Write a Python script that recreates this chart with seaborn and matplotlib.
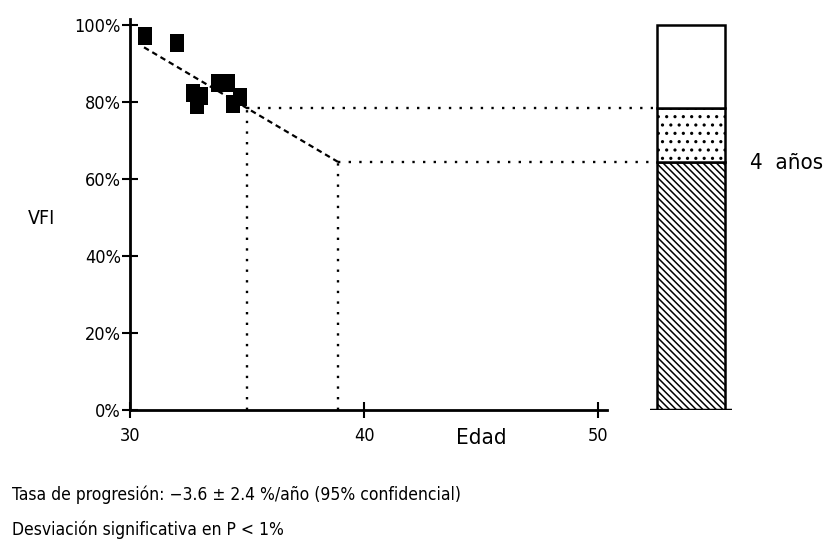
import numpy as np
import pandas as pd
import seaborn as sns
import matplotlib.pyplot as plt

# Data
edad = [30.64, 32.0, 32.69, 33.03, 32.86, 33.75, 34.18, 34.69, 34.39]
vfi = [97.1, 95.3, 82.3, 81.6, 79.2, 84.9, 84.9, 81.3, 79.5]

fit_x = [30.6, 35.0, 38.9]
fit_y = [94.2, 78.4, 64.4]

# stacked bar: remaining at 4 years, loss over next 4 years, loss so far
bar_bottoms = [0, 64.4, 78.4]
bar_heights = [64.4, 14.0, 21.6]
bar_hatches = ['\\\\\\\\\\', '..', '']

yticks = [0, 20, 40, 60, 80, 100]
xticks = [30, 40, 50]

sns.set_style('white')
plt.rcParams['font.family'] = ['DejaVu Sans']
plt.rcParams['font.stretch'] = 'condensed'
plt.rcParams['text.color'] = 'black'
plt.rcParams['xtick.color'] = 'black'
plt.rcParams['ytick.color'] = 'black'
plt.rcParams['hatch.linewidth'] = 1.1

W, H = 829, 550
fig = plt.figure(figsize=(W / 100, H / 100), dpi=100)

# main axes: x 30 -> px 130, 10 years = 234 px; y 0% -> px 410, 100% -> px 25
ax = fig.add_axes([130 / W, (H - 410) / H, 20.4 * 23.4 / W, 101.5 * 3.85 / H])
ax.set_xlim(30, 50.4)
ax.set_ylim(0, 101.5)

df = pd.DataFrame({'Edad': edad, 'VFI': vfi})
sq = [(-1, -1.35), (1, -1.35), (1, 1.35), (-1, 1.35), (-1, -1.35)]
sns.scatterplot(data=df, x='Edad', y='VFI', marker=sq, s=170, color='black',
                edgecolor='black', linewidth=0, ax=ax, zorder=3)
sns.lineplot(x=fit_x, y=fit_y, color='black', lw=1.6, ax=ax,
             linestyle=(0, (2.5, 1.8)), zorder=2)

for s in ['top', 'right']:
    ax.spines[s].set_visible(False)
for s in ['left', 'bottom']:
    ax.spines[s].set_linewidth(2)
    ax.spines[s].set_color('black')

ax.set_yticks(yticks)
ax.set_yticklabels([f'{v}%' for v in yticks], fontsize=13)
ax.set_xticks(xticks)
ax.set_xticklabels([str(v) for v in xticks], fontsize=13)
ax.tick_params(bottom=True, left=True, direction='inout', length=11, width=1.5)
ax.tick_params(axis='x', pad=7)
ax.tick_params(axis='y', pad=1)
ax.set_xlabel('')
ax.set_ylabel('')

fig.text(28 / W, 1 - 218 / H, 'VFI', fontsize=14, ha='left', va='center')
ax.text(45.0, -7.2, 'Edad', fontsize=16, ha='center', va='center')

# bar axes on the right
bax = fig.add_axes([650 / W, (H - 410) / H, 82 / W, 101.5 * 3.85 / H])
bax.set_xlim(-0.6, 0.6)
bax.set_ylim(0, 101.5)
for b, h, ht in zip(bar_bottoms, bar_heights, bar_hatches):
    bax.bar(0, h, bottom=b, width=1.0, color='white', edgecolor='black',
            linewidth=1.8, hatch=ht)
bax.axhline(0, color='black', lw=2.5)
bax.axis('off')

# dotted guides from the fit to the bar
fig.canvas.draw()
bar_left_disp = bax.transData.transform((-0.56, 0))
x_end = ax.transData.inverted().transform(bar_left_disp)[0]
for xv, yv in zip(fit_x[1:], fit_y[1:]):
    ax.plot([xv, x_end], [yv, yv], color='black', lw=1.7, linestyle=(0, (1, 3.5)),
            clip_on=False)
    ax.plot([xv, xv], [0, yv], color='black', lw=1.7, linestyle=(0, (1, 3.5)))

fig.text(750 / W, 1 - 163 / H, '4  años', fontsize=16, ha='left', va='center')

fig.text(12 / W, 1 - 495 / H,
         'Tasa de progresión: \u22123.6 \u00b1 2.4 %/año (95% confidencial)',
         fontsize=12.5, ha='left', va='center')
fig.text(12 / W, 1 - 530 / H, 'Desviación significativa en P < 1%',
         fontsize=12.5, ha='left', va='center')

fig.savefig('out.png', dpi=100)
